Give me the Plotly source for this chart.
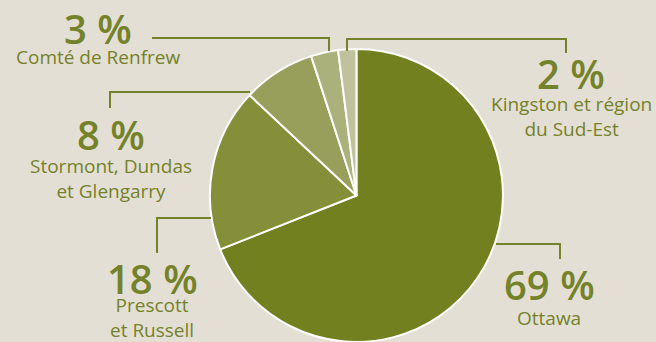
import plotly.graph_objects as go

# ---- data ----
regions = ["Ottawa", "Prescott et Russell", "Stormont, Dundas et Glengarry",
           "Comté de Renfrew", "Kingston et région du Sud-Est"]
values = [69, 18, 8, 3, 2]
pct_labels = ["69 %", "18 %", "8 %", "3 %", "2 %"]
sub_labels = [["Ottawa"], ["Prescott", "et Russell"], ["Stormont, Dundas", "et Glengarry"],
              ["Comté de Renfrew"], ["Kingston et région", "du Sud-Est"]]

# ---- style ----
W, H = 656, 342
BG = "#e4dfd4"
TXT = "#74822a"
colors = ["#728020", "#858f39", "#979f5a", "#aab17b", "#bfc29c"]
FONT = "Open Sans"
SUB_SIZE = 19
LINE_H = SUB_SIZE * 1.3

# label layout (pixel positions, top-left origin): center x, pct center y, sublabel block center y
label_pos = [
    (549, 284, 318),
    (152, 278, 321),
    (111, 134, 178),
    (98, 28, 57),
    (571, 73, 116.5),
]
leaders = [
    [(496, 244), (560, 244), (560, 259)],
    [(211, 218), (157, 218), (157, 253)],
    [(250, 92), (110, 92), (110, 108)],
    [(152, 38), (329, 38), (329, 51)],
    [(347, 51), (347, 39), (566, 39), (566, 53)],
]

def px(x):
    return x / W

def py(y):
    return 1 - y / H

fig = go.Figure(go.Pie(
    labels=regions, values=values, sort=False, direction="clockwise", rotation=0,
    marker=dict(colors=colors, line=dict(color="white", width=2)),
    textinfo="none", hoverinfo="label+percent",
    domain=dict(x=[0.32, 0.7667], y=[0, 0.857]),
    showlegend=False,
))

ann = []
for i in range(len(values)):
    cx, yp, ys = label_pos[i]
    ann.append(dict(x=px(cx), y=py(yp), xref="paper", yref="paper", text=pct_labels[i],
                    showarrow=False, xanchor="center", yanchor="middle", borderpad=0,
                    height=38, valign="middle",
                    font=dict(family=FONT, size=40, color=TXT, weight=600)))
    n = len(sub_labels[i])
    bottom = ys + n * LINE_H / 2
    if bottom > H:
        ys -= bottom - H
    ann.append(dict(x=px(cx), y=py(ys), xref="paper", yref="paper",
                    text="<br>".join(sub_labels[i]), align="center",
                    showarrow=False, xanchor="center", yanchor="middle", borderpad=0,
                    font=dict(family=FONT, size=SUB_SIZE, color=TXT)))

shapes = []
for pts in leaders:
    path = "M " + " L ".join(f"{px(x):.5f},{py(y):.5f}" for x, y in pts)
    shapes.append(dict(type="path", path=path, xref="paper", yref="paper",
                       line=dict(color=TXT, width=2)))

fig.update_layout(width=W, height=H, margin=dict(l=0, r=0, t=0, b=0),
                  paper_bgcolor=BG, plot_bgcolor=BG, annotations=ann, shapes=shapes)
fig.write_html("out.html")
